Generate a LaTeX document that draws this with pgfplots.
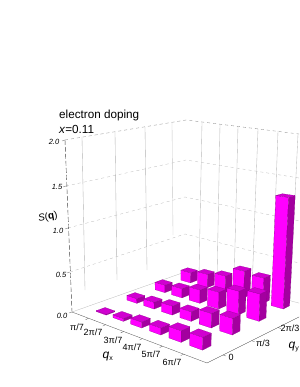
\documentclass[border=0pt]{standalone}
\usepackage{fontspec}
\setmainfont{Liberation Sans}
\usepackage{pgfplots}
\pgfplotsset{compat=1.18}
\definecolor{barL}{HTML}{FF00FF}
\definecolor{barR}{HTML}{A3009F}
\definecolor{barT}{HTML}{D000D0}
\definecolor{barE}{HTML}{8A0088}
% floor corners in pixels: L, F, R, B
\def\xL{72}\def\yL{312}\def\xF{207}\def\yF{363}\def\xR{317}\def\yR{304}\def\xB{189}\def\yB{270}
\pgfmathsetmacro\dxa{\xF-\xR}\pgfmathsetmacro\dxb{\xB-\xR}\pgfmathsetmacro\sx{\xL-\xF+\xR-\xB}
\pgfmathsetmacro\dya{\yF-\yR}\pgfmathsetmacro\dyb{\yB-\yR}\pgfmathsetmacro\sy{\yL-\yF+\yR-\yB}
\pgfmathsetmacro\dt{(\dxa*\dyb-\dxb*\dya)/100}
\pgfmathsetmacro\hg{(\sx*\dyb-\dxb*\sy)/100/\dt}
\pgfmathsetmacro\hh{(\dxa*\sy-\sx*\dya)/100/\dt}
\pgfmathsetmacro\ha{\xF-\xL+\hg*\xF}\pgfmathsetmacro\hb{\xB-\xL+\hh*\xB}
\pgfmathsetmacro\hd{\yF-\yL+\hg*\yF}\pgfmathsetmacro\he{\yB-\yL+\hh*\yB}
% vertical direction
\def\kr{-0.03365}\def\kx{-5.687}\def\ky{-90.72}
\newcommand\proj[5]{% s t z -> macros
  \pgfmathsetmacro\W{1+\hg*#1+\hh*#2+\kr*#3}%
  \pgfmathsetmacro#4{(\ha*#1+\hb*#2+\xL+\kx*#3)/\W}%
  \pgfmathsetmacro#5{(\hd*#1+\he*#2+\yL+\ky*#3)/\W}}
\def\dS{0.042}\def\dT{0.033}
\newcommand\Bar[3]{% column i (1-6), row j (1-4), height
  \pgfmathsetmacro\sc{0.142+0.1418*(#1-1)}\pgfmathsetmacro\tc{0.126+0.238*(#2-1)}%
  \pgfmathsetmacro\sa{\sc-\dS}\pgfmathsetmacro\sb{\sc+\dS}%
  \pgfmathsetmacro\ta{\tc-\dT}\pgfmathsetmacro\tb{\tc+\dT}%
  \proj{\sb}{\ta}{0}{\xa}{\ya}\proj{\sb}{\tb}{0}{\xb}{\yb}\proj{\sa}{\ta}{0}{\xc}{\yc}%
  \proj{\sb}{\ta}{#3}{\xd}{\yd}\proj{\sb}{\tb}{#3}{\xe}{\ye}\proj{\sa}{\ta}{#3}{\xf}{\yf}\proj{\sa}{\tb}{#3}{\xg}{\yg}%
  \edef\tmp{\noexpand\addplot[fill=barL,draw=barE,line width=0.12pt] coordinates {(\xc,\yc)(\xa,\ya)(\xd,\yd)(\xf,\yf)} -- cycle;
  \noexpand\addplot[fill=barR,draw=barE,line width=0.12pt] coordinates {(\xa,\ya)(\xb,\yb)(\xe,\ye)(\xd,\yd)} -- cycle;
  \noexpand\addplot[fill=barT,draw=barE,line width=0.12pt] coordinates {(\xd,\yd)(\xe,\ye)(\xg,\yg)(\xf,\yf)} -- cycle;}\tmp}
\begin{document}
\begin{tikzpicture}[x=1pt,y=1pt]
\path[use as bounding box] (0,0) rectangle (299,387);
\clip (0,0) rectangle (299,387);
\begin{axis}[hide axis,scale only axis,width=299pt,height=387pt,xmin=0,xmax=299,ymin=0,ymax=387,y dir=reverse,
  anchor=south west,at={(0,0)},clip=true]
% horizontal wall lines
\addplot[gray!55,line width=0.3pt,dashed] coordinates {(66,186)(186,160)(299,178)};
\addplot[gray!55,line width=0.3pt,dashed] coordinates {(68,228)(185,197)(299,221)};
\addplot[gray!55,line width=0.3pt,dashed] coordinates {(70,272)(185,234)(299,263)};
\addplot[gray!55,line width=0.3pt] coordinates {(72,312)(185,272)(317,308)};
\addplot[gray!90,line width=0.35pt,dashed] coordinates {(65,140)(186,120)(299,134)};
% vertical wall lines
\addplot[gray!60,line width=0.35pt] coordinates {(82,137)(85,290)};
\addplot[gray!60,line width=0.35pt] coordinates {(115,132)(117,280)};
\addplot[gray!60,line width=0.35pt] coordinates {(145,127)(147,270)};
\addplot[gray!45,line width=0.35pt] coordinates {(172,122)(173,235)};
\addplot[gray!55,line width=0.35pt] coordinates {(202,122)(199,276)};
\addplot[gray!55,line width=0.35pt] coordinates {(220,124)(217,281)};
\addplot[gray!55,line width=0.35pt] coordinates {(238,126)(234,285)};
\addplot[gray!55,line width=0.35pt] coordinates {(258,129)(252,290)};
\addplot[gray!55,line width=0.35pt] coordinates {(278,131)(272,296)};
\addplot[gray!55,line width=0.35pt] coordinates {(298,134)(290,300)};
% z axis and floor axes
\addplot[black!75,line width=0.4pt,dash pattern=on 5pt off 2pt] coordinates {(65,140)(72,312)};
\addplot[black!70,line width=0.3pt] coordinates {(72,312)(207,363)(317,308)};
% ticks
\addplot[black!70,line width=0.3pt] coordinates {(65,140)(62,141)};
\addplot[black!70,line width=0.3pt] coordinates {(66,186)(63,187)};
\addplot[black!70,line width=0.3pt] coordinates {(68,228)(65,229)};
\addplot[black!70,line width=0.3pt] coordinates {(70,272)(67,273)};
\addplot[black!70,line width=0.3pt] coordinates {(72,312)(69,313)};
\addplot[black!70,line width=0.3pt] coordinates {(88.4,318.3)(85.6,319.7)};
\addplot[black!70,line width=0.3pt] coordinates {(105.5,324.7)(102.7,326.1)};
\addplot[black!70,line width=0.3pt] coordinates {(123.5,331.5)(120.7,332.9)};
\addplot[black!70,line width=0.3pt] coordinates {(142.4,338.6)(139.6,340)};
\addplot[black!70,line width=0.3pt] coordinates {(162.4,346.2)(159.6,347.6)};
\addplot[black!70,line width=0.3pt] coordinates {(183.5,354.2)(180.7,355.6)};
\addplot[black!70,line width=0.3pt] coordinates {(223,355)(226,356)};
\addplot[black!70,line width=0.3pt] coordinates {(251.6,340.7)(254.6,341.7)};
\addplot[black!70,line width=0.3pt] coordinates {(277.8,327.5)(280.8,328.5)};
% bars: back row first
\Bar{1}{4}{0.14}\Bar{2}{4}{0.18}\Bar{3}{4}{0.22}\Bar{4}{4}{0.345}\Bar{5}{4}{0.32}\Bar{6}{4}{1.34}
\Bar{1}{3}{0.10}\Bar{2}{3}{0.12}\Bar{3}{3}{0.17}\Bar{4}{3}{0.21}\Bar{5}{3}{0.29}\Bar{6}{3}{0.325}
\Bar{1}{2}{0.06}\Bar{2}{2}{0.085}\Bar{3}{2}{0.11}\Bar{4}{2}{0.115}\Bar{5}{2}{0.17}\Bar{6}{2}{0.19}
\Bar{1}{1}{0.01}\Bar{2}{1}{0.035}\Bar{3}{1}{0.07}\Bar{4}{1}{0.08}\Bar{5}{1}{0.13}\Bar{6}{1}{0.14}
% texts
\node[anchor=west,inner sep=0pt,font=\fontsize{11.7}{12}\selectfont] at (axis cs:59,115) {electron doping};
\node[anchor=west,inner sep=0pt,font=\fontsize{11.7}{12}\selectfont] at (axis cs:59,129) {\textit{x}=0.11};
\node[font=\fontsize{7.5}{8}\selectfont\itshape] at (axis cs:54,142) {2.0};
\node[font=\fontsize{7.5}{8}\selectfont\itshape] at (axis cs:57,187) {1.5};
\node[font=\fontsize{7.5}{8}\selectfont\itshape] at (axis cs:58,231) {1.0};
\node[font=\fontsize{7.5}{8}\selectfont\itshape] at (axis cs:61,275) {0.5};
\node[font=\fontsize{7.5}{8}\selectfont\itshape] at (axis cs:62,316) {0.0};
\node[rotate=10,font=\fontsize{10}{10}\selectfont] at (axis cs:48,217) {\textit{S}(\textbf{q})};
\node[font=\fontsize{9}{10}\selectfont] at (axis cs:77,327) {π/7};
\node[font=\fontsize{9}{10}\selectfont] at (axis cs:93,332) {2π/7};
\node[font=\fontsize{9}{10}\selectfont] at (axis cs:113,340) {3π/7};
\node[font=\fontsize{9}{10}\selectfont] at (axis cs:132,347) {4π/7};
\node[font=\fontsize{9}{10}\selectfont] at (axis cs:151,354) {5π/7};
\node[font=\fontsize{9}{10}\selectfont] at (axis cs:172,362) {6π/7};
\node[font=\fontsize{12}{12}\selectfont] at (axis cs:108,357) {\textit{q}\textsubscript{\fontsize{7}{7}\selectfont x}};
\node[font=\fontsize{9}{10}\selectfont] at (axis cs:231,357) {0};
\node[font=\fontsize{9}{10}\selectfont] at (axis cs:263,343) {π/3};
\node[font=\fontsize{9}{10}\selectfont] at (axis cs:290,328) {2π/3};
\node[font=\fontsize{12}{12}\selectfont] at (axis cs:294,347) {\textit{q}\textsubscript{\fontsize{7}{7}\selectfont y}};
\end{axis}
\end{tikzpicture}
\end{document}
